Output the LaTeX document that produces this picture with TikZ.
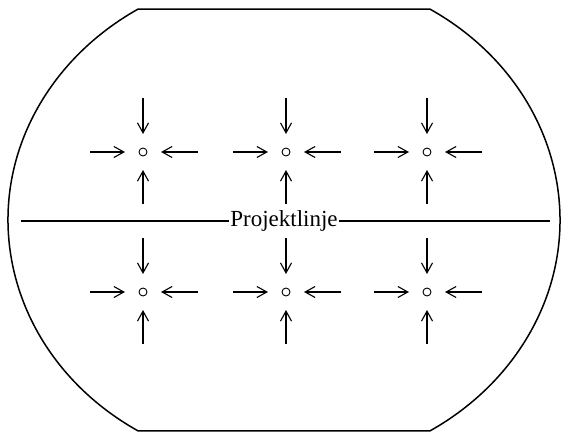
\documentclass[tikz,border=0pt]{standalone}
\usepackage{fontspec}
\setmainfont{Liberation Serif}
\usetikzlibrary{arrows.meta}
\tikzset{
  sink/.style={circle, draw, line width=0.9pt, minimum size=8pt, inner sep=0pt, outer sep=0pt},
  flow/.style={line width=1.1pt, -{Straight Barb[length=10pt,width=11pt,line width=1.1pt]}, shorten >=14pt},
  outline/.style={line width=1.5pt, line join=round},
}
\begin{document}
\begin{tikzpicture}[x=1pt,y=1pt]
\useasboundingbox (0,0) rectangle (561,432);
% outline: clipped ellipse
\def\ea{58.1}
\path (284,212) ++(180-\ea:276 and 248.5) coordinate (tl);
\path (284,212) ++(\ea:276 and 248.5) coordinate (tr);
\path (284,212) ++(-\ea:276 and 248.5) coordinate (br);
\path (284,212) ++(180+\ea:276 and 248.5) coordinate (bl);
\draw[outline] (tl) -- (tr)
  arc[start angle=\ea, end angle=-\ea, x radius=276, y radius=248.5]
  -- (bl)
  arc[start angle=180+\ea, end angle=180-\ea, x radius=276, y radius=248.5] -- cycle;
% project line
\node[inner sep=1pt, font=\fontsize{23}{26}\selectfont] (lbl) at (284,211) {Projektlinje};
\coordinate (L) at (21,211);
\coordinate (R) at (550,211);
\draw[line width=1.1pt] (L) -- (lbl.west);
\draw[line width=1.1pt] (lbl.east) -- (R);
% sinks
\foreach \i/\x in {1/143,2/286,3/427}{
  \foreach \j/\y in {a/280,b/140}{
    \node[sink] (s\i\j) at (\x,\y) {};
    \coordinate (n\i\j) at (\x,\y+54);
    \coordinate (u\i\j) at (\x,\y-52);
    \coordinate (w\i\j) at (\x-53,\y);
    \coordinate (e\i\j) at (\x+55,\y);
    \draw[flow] (n\i\j) -- (s\i\j);
    \draw[flow] (u\i\j) -- (s\i\j);
    \draw[flow] (w\i\j) -- (s\i\j);
    \draw[flow] (e\i\j) -- (s\i\j);
  }
}
\end{tikzpicture}
\end{document}
